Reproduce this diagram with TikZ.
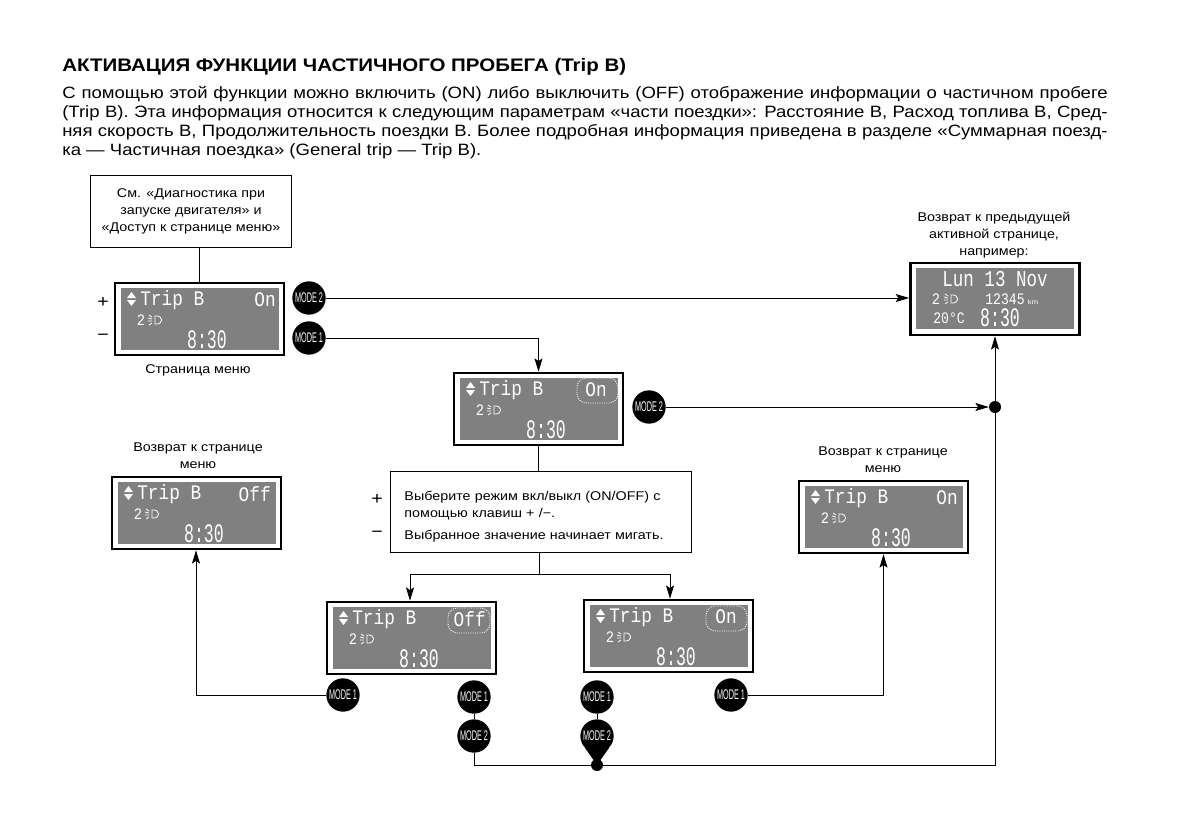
\documentclass[tikz,border=0pt]{standalone}
\usepackage{fontspec}
\setmainfont[FakeStretch=1.13]{Liberation Sans}
\newfontfamily\lcdfont[FakeStretch=.86]{Liberation Mono}
\usetikzlibrary{arrows.meta}

\tikzset{
    line/.style={line width=0.65pt},
    arrowline/.style={line width=0.65pt, -{Stealth[length=10pt, width=6pt, inset=2pt]}},
    textbox/.style={draw, line width=0.7pt, fill=white, align=center, font=\fontsize{9.5}{12.8}\selectfont},
    lcdframe/.style={draw, line width=1.9pt, fill=white, minimum width=127pt, minimum height=54pt, inner sep=0pt},
    label/.style={align=center, font=\fontsize{9.5}{12.8}\selectfont},
    sign/.style={font=\fontsize{13}{13}\selectfont},
    modekey/.style={circle, fill=black, text=white, minimum size=25pt, inner sep=0pt},
    dotnode/.style={circle, fill=black, minimum size=9pt, inner sep=0pt},
    lcdtext/.style={text=white, inner sep=0pt, font=\lcdfont\fontsize{15.5}{15.5}\selectfont},
    lcdsmall/.style={text=white, inner sep=0pt, font=\lcdfont\fontsize{12}{12}\selectfont},
    lcdclock/.style={text=white, inner sep=0pt, font=\lcdfont\fontsize{20}{20}\selectfont},
    blink/.style={draw=white, densely dotted, line width=0.7pt, rounded corners=7pt},
}

% headlight symbol
\newcommand{\lampicon}[2]{
    \draw[white, line width=0.6pt] (#1+3,#2-4) .. controls (#1+12,#2-5) and (#1+12,#2+5) .. (#1+3,#2+4) -- cycle;
    \draw[white, line width=0.6pt] (#1-3,#2-5) -- (#1,#2-3) (#1-4,#2-2) -- (#1,#2-1) (#1-4,#2+1) -- (#1,#2+1) (#1-3,#2+5) -- (#1,#2+3);
}
% display with the Trip B page
\newcommand{\tripscreen}[5]{
    \begin{scope}[shift={(#2,#3)}]
        \node[lcdframe] (#1) at (85.5,37) {};
        \fill[black!50] (7,6) rectangle (165,68);
        \fill[white] (13,16) -- (17.5,10) -- (22,16) -- cycle (13,18) -- (17.5,24) -- (22,18) -- cycle;
        \node[lcdtext, anchor=west] (#1trip) at (26,18) {Trip B};
        \node[lcdtext, anchor=east] (#1value) at (#4,18) {#5};
        \node[lcdsmall] (#1gear) at (27,38) {2};
        \lampicon{38}{38}
        \node[lcdclock] (#1clock) at (93,58) {\scalebox{.72}[1]{8:30}};
    \end{scope}
}
% mode key, squeezed lettering
\newcommand{\modekey}[4]{
    \node[modekey] (#1) at (#2,#3) {\scalebox{.46}[1]{\fontsize{10.5}{10.5}\selectfont MODE #4}};
}

\begin{document}
\begin{tikzpicture}[x=0.75pt, y=-0.75pt]
    \useasboundingbox (0,0) rectangle (1191,839);
    %heading
        \node[anchor=west, inner sep=0pt, font=\bfseries\fontsize{13.6}{13.6}\selectfont] (title) at (62,67) {АКТИВАЦИЯ ФУНКЦИИ ЧАСТИЧНОГО ПРОБЕГА (Trip B)};
        \node[anchor=north west, inner sep=0pt, align=left, font=\fontsize{12.3}{14.3}\selectfont] (intro) at (62,86) {%
            \makebox[784pt][s]{С помощью этой функции можно включить (ON) либо выключить (OFF) отображение информации о частичном пробеге}\\
            \makebox[784pt][s]{(Trip B). Эта информация относится к следующим параметрам «части поездки»: Расстояние B, Расход топлива B, Сред-}\\
            \makebox[784pt][s]{няя скорость B, Продолжительность поездки B. Более подробная информация приведена в разделе «Суммарная поезд-}\\
            ка — Частичная поездка» (General trip — Trip B).};
    %displays
        \tripscreen{menupage}{114}{282}{162}{On}
        \tripscreen{selectpage}{453}{372}{154}{On}
        \tripscreen{offreturn}{111}{476}{160}{Off}
        \tripscreen{offpage}{326}{601}{160}{Off}
        \tripscreen{onpage}{583}{599}{154}{On}
        \tripscreen{onreturn}{798}{480}{160}{On}
        \draw[blink] (577,378) rectangle (618,403);
        \draw[blink] (448,608) rectangle (490,633);
        \draw[blink] (706,606) rectangle (747,631);
    % previous page display
        \node[lcdframe] (prevpage) at (995,299) {};
        \fill[black!50] (916,268) rectangle (1074,329);
        \node[lcdtext, font=\lcdfont\fontsize{17}{17}\selectfont] (prevdate) at (995,279) {\scalebox{.9}[1]{Lun 13 Nov}};
        \node[lcdsmall] (prevgear) at (936,299) {2};
        \lampicon{948}{299}
        \node[lcdsmall] (prevkm) at (1005,299) {\scalebox{.95}[1]{12345}};
        \node[lcdtext, font=\fontsize{5}{5}\selectfont] (prevunit) at (1033,302) {km};
        \node[lcdsmall] (prevtemp) at (949,318) {\scalebox{.95}[1]{20°C}};
        \node[lcdclock] (prevclock) at (1000,318) {\scalebox{.72}[1]{8:30}};
    %text boxes
        \node[textbox, inner xsep=0pt, minimum width=151pt, minimum height=54pt] (startbox) at (191,211) {См. «Диагностика при\\запуске двигателя» и\\«Доступ к странице меню»};
        \node[textbox, align=left, anchor=north west, minimum width=226pt, minimum height=61pt, text width=205pt] (choicebox) at (390,471) {\rule{0pt}{14pt}Выберите режим вкл/выкл (ON/OFF) с\\помощью клавиш + /−.\\[4pt]Выбранное значение начинает мигать.};
    %labels
        \node[label] (menulabel) at (198,370) {Страница меню};
        \node[label] (prevlabel) at (994,235) {Возврат к предыдущей\\активной странице,\\например:};
        \node[label] (offlabel) at (198,456) {Возврат к странице\\меню};
        \node[label] (onlabel) at (883,460) {Возврат к странице\\меню};
        \node[sign] (plusa) at (103,302) {+};
        \node[sign] (minusa) at (103,337) {−};
        \node[sign] (plusb) at (377,499) {+};
        \node[sign] (minusb) at (377,534) {−};
    %keys
        \modekey{keytwo}{309}{298}{2}
        \modekey{keyone}{309}{338}{1}
        \modekey{keyselect}{649}{407}{2}
        \modekey{keyoff}{343}{695}{1}
        \modekey{keyoffone}{474}{697}{1}
        \modekey{keyofftwo}{474}{736}{2}
        \modekey{keyonone}{597}{697}{1}
        \modekey{keyontwo}{597}{736}{2}
        \modekey{keyon}{731}{695}{1}
    %junctions
        \node[dotnode] (dotright) at (995,407) {};
        \node[dotnode] (dotbottom) at (597,765) {};
        \coordinate (splitleft) at (410,574);
        \coordinate (splitright) at (670,574);
        \coordinate (splitmid) at (539,574);
        \coordinate (menuentry) at (199,282);
    % lines
        \draw[line] (startbox.south -| menuentry) -- (menuentry);
        \draw[arrowline] (keytwo) -- (prevpage.west |- keytwo);
        \draw[arrowline] (keyone) -| (selectpage.north);
        \draw[arrowline] (keyselect) -- (dotright);
        \draw[line] (selectpage.south) -- (choicebox.north -| selectpage.south);
        \draw[line] (choicebox.south -| splitmid) -- (splitmid);
        \draw[arrowline] (splitmid) -- (splitleft) -- (offpage.north -| splitleft);
        \draw[arrowline] (splitmid) -- (splitright) -- (onpage.north -| splitright);
        \draw[arrowline] (keyoff) -| (offreturn.south -| 196,0);
        \draw[arrowline] (keyon) -| (onreturn.south);
        \draw[line] (keyoffone) -- (keyofftwo);
        \draw[line] (keyonone) -- (keyontwo);
        \draw[line] (keyofftwo) |- (dotbottom);
        \draw[arrowline] (dotbottom) -| (prevpage.south);
        \fill (keyontwo.south west) -- (dotbottom.center) -- (keyontwo.south east) -- cycle;
\end{tikzpicture}
\end{document}
